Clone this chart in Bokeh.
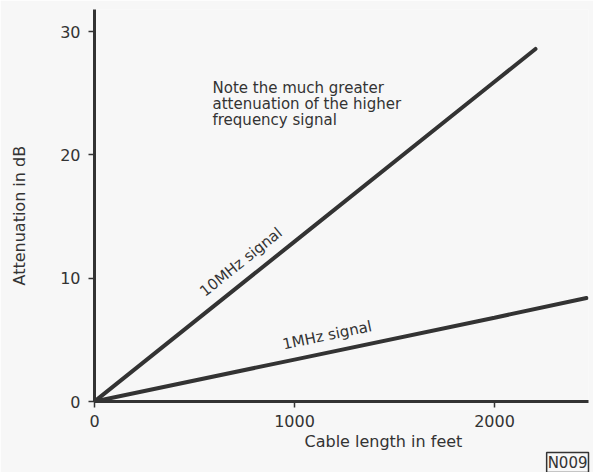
from bokeh.plotting import figure
from bokeh.models import Range1d, FixedTicker, Label, Title
from bokeh.embed import file_html
from bokeh.resources import INLINE

# data
cable_ft = [0, 1000, 2000, 2205]
atten_10mhz = [0, 12.97, 25.94, 28.6]
cable_ft_1 = [0, 1000, 2000, 2460]
atten_1mhz = [0, 3.4, 6.8, 8.4]
x_ticks = [0, 1000, 2000]
y_ticks = [0, 10, 20, 30]
note_lines = ["Note the much greater", "attenuation of the higher", "frequency signal"]

INK = "#333333"
BG = "#f7f7f7"
FONT = "DejaVu Sans"

p = figure(width=593, height=472, output_backend="svg", toolbar_location=None,
           x_range=Range1d(0, 2470), y_range=Range1d(0, 31.8),
           min_border_left=94, min_border_bottom=70, min_border_top=9, min_border_right=5)
p.background_fill_color = BG
p.border_fill_color = BG
p.outline_line_color = None
p.grid.visible = False

for ax in (p.xaxis[0], p.yaxis[0]):
    ax.axis_line_width = 3
    ax.axis_line_color = INK
    ax.major_tick_line_color = INK
    ax.major_tick_line_width = 1.5
    ax.major_tick_out = 6
    ax.major_tick_in = 0
    ax.minor_tick_line_color = None
    ax.major_label_text_font = FONT
    ax.major_label_text_font_size = "16px"
    ax.major_label_text_color = INK
    ax.axis_label_text_font = FONT
    ax.axis_label_text_font_size = "16px"
    ax.axis_label_text_font_style = "normal"
    ax.axis_label_text_color = INK

p.xaxis.major_label_standoff = 7
p.yaxis.major_label_standoff = 8
p.xaxis.ticker = FixedTicker(ticks=x_ticks)
p.yaxis.ticker = FixedTicker(ticks=y_ticks)
p.yaxis.axis_label = "Attenuation in dB\u00a0\u00a0\u00a0\u00a0"
p.yaxis.axis_label_standoff = 28

p.add_layout(Title(text="Cable length in feet", align="left", offset=210, standoff=0,
                   text_font=FONT, text_font_size="16px", text_font_style="normal",
                   text_color=INK), "below")
p.add_layout(Title(text="N009", align="right", standoff=0, text_font=FONT,
                   text_font_size="15px", text_font_style="normal", text_color=INK,
                   border_line_color=INK, border_line_width=1.5,
                   background_fill_color=BG, padding=1), "below")

p.line(cable_ft, atten_10mhz, line_width=4, line_color=INK, line_cap="round")
p.line(cable_ft_1, atten_1mhz, line_width=4, line_color=INK, line_cap="round")

p.add_layout(Label(x=565, y=8.2, text="10MHz  signal", angle=38.7, angle_units="deg",
                   text_font=FONT, text_font_size="15px", text_color=INK))
p.add_layout(Label(x=950, y=3.9, text="1MHz  signal", angle=11.8, angle_units="deg",
                   text_font=FONT, text_font_size="15px", text_color=INK))
for i, line in enumerate(note_lines):
    p.add_layout(Label(x=590, y=26.2 - i * 1.3, text=line, text_baseline="top",
                       text_font=FONT, text_font_size="15px", text_color=INK))

open("out.html", "w").write(file_html(p, INLINE))
